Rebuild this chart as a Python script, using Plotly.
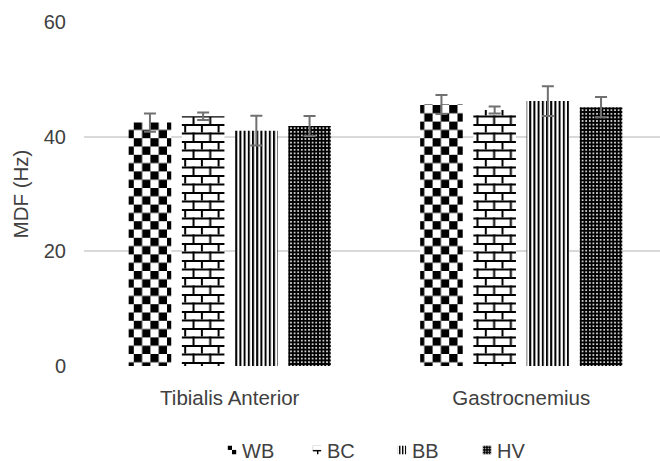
import plotly.graph_objects as go

categories = ["Tibialis Anterior", "Gastrocnemius"]
series_names = ["WB", "BC", "BB", "HV"]
wb_values = [42.45, 45.6]
bc_values = [43.55, 44.65]
bb_values = [41.05, 46.2]
hv_values = [41.85, 45.15]
wb_err = [1.6, 1.65]
bc_err = [0.65, 0.6]
bb_err = [2.6, 2.6]
hv_err = [1.75, 1.75]
y_ticks = [0, 20, 40, 60]

values = [wb_values, bc_values, bb_values, hv_values]
errors = [wb_err, bc_err, bb_err, hv_err]

# fallback native patterns (refined by the post script below)
fallback = [
    dict(shape="x", size=8, solidity=0.5, fgcolor="black", bgcolor="white"),
    dict(shape="+", size=8, solidity=0.25, fgcolor="black", bgcolor="white"),
    dict(shape="|", size=4, solidity=0.5, fgcolor="black", bgcolor="white"),
    dict(shape=".", size=4, solidity=0.3, fgcolor="white", bgcolor="black"),
]

FONT = "Liberation Sans, Arial, sans-serif"
TXT = "#404040"

fig = go.Figure()
for name, vals, errs, pat in zip(series_names, values, errors, fallback):
    fig.add_trace(go.Bar(
        name=name, x=categories, y=vals,
        marker=dict(color="white", line=dict(width=0), pattern=pat),
        error_y=dict(type="data", array=errs, visible=True,
                     color="#707070", thickness=2, width=6),
    ))

fig.update_layout(
    width=660, height=461,
    margin=dict(l=84, r=0, t=22, b=95),
    paper_bgcolor="white", plot_bgcolor="white",
    barmode="group", bargap=0.27, bargroupgap=0.2,
    font=dict(family=FONT, size=20, color=TXT),
    showlegend=True,
    legend=dict(orientation="h", x=0.5, xanchor="center",
                yref="container", y=0.024, yanchor="middle",
                font=dict(family=FONT, size=20, color=TXT),
                entrywidth=40, entrywidthmode="pixels", traceorder="normal"),
    xaxis=dict(type="category", range=[-0.5, 1.476], showgrid=False, showline=False,
               zeroline=False, ticks="", ticklabelstandoff=17, automargin=False,
               tickfont=dict(family=FONT, size=20.5, color=TXT)),
    yaxis=dict(range=[0, 60], tickvals=y_ticks, showgrid=True, gridcolor="#d9d9d9",
               gridwidth=1.5, zeroline=False, showline=False, ticks="",
               ticklabelstandoff=17, automargin=False,
               tickfont=dict(family=FONT, size=20, color=TXT),
               title=dict(text="MDF (Hz)", standoff=9,
                          font=dict(family=FONT, size=20.5, color=TXT))),
)

post = r"""
var gd = document.getElementById('{plot_id}');
var NS = 'http://www.w3.org/2000/svg';
var defs = gd.querySelector('svg.main-svg defs');
function pat(id, w, h, bg, fg, rects) {
  var p = document.createElementNS(NS, 'pattern');
  p.setAttribute('id', id);
  p.setAttribute('patternUnits', 'userSpaceOnUse');
  p.setAttribute('width', w); p.setAttribute('height', h);
  var b = document.createElementNS(NS, 'rect');
  b.setAttribute('x', 0); b.setAttribute('y', 0);
  b.setAttribute('width', w); b.setAttribute('height', h);
  b.setAttribute('fill', bg); p.appendChild(b);
  rects.forEach(function(r) {
    var e = document.createElementNS(NS, 'rect');
    e.setAttribute('x', r[0]); e.setAttribute('y', r[1]);
    e.setAttribute('width', r[2]); e.setAttribute('height', r[3]);
    e.setAttribute('fill', fg); p.appendChild(e);
  });
  defs.appendChild(p);
  return 'url(#' + id + ')';
}
var fills = [
  pat('custWB', 16.6, 16.6, 'white', 'black', [[0,0,8.3,8.3],[8.3,8.3,8.3,8.3]]),
  pat('custBC', 16.7, 17, 'white', 'black', [[0,0,16.7,2],[0,8.5,16.7,2],[0,0,2,8.5],[8.35,8.5,2,8.5]]),
  pat('custBB', 4.2, 10, 'white', 'black', [[0,0,2,10]]),
  pat('custHV', 3.6, 3.6, 'black', 'white', [[1,1,1.6,1.6]])
];
var traces = gd.querySelectorAll('.barlayer .trace');
traces.forEach(function(t, i) {
  t.querySelectorAll('.point path').forEach(function(p) { p.style.fill = fills[i]; });
});
var leg = gd.querySelectorAll('.legend .traces');
leg.forEach(function(t, i) {
  t.querySelectorAll('.legendpoints path').forEach(function(p) { p.style.fill = fills[i]; });
  var lp = t.querySelector('.legendpoints');
  if (lp) { lp.setAttribute('transform', 'translate(16,0) scale(0.7)'); }
});
"""

fig.write_html("out.html", post_script=post)
